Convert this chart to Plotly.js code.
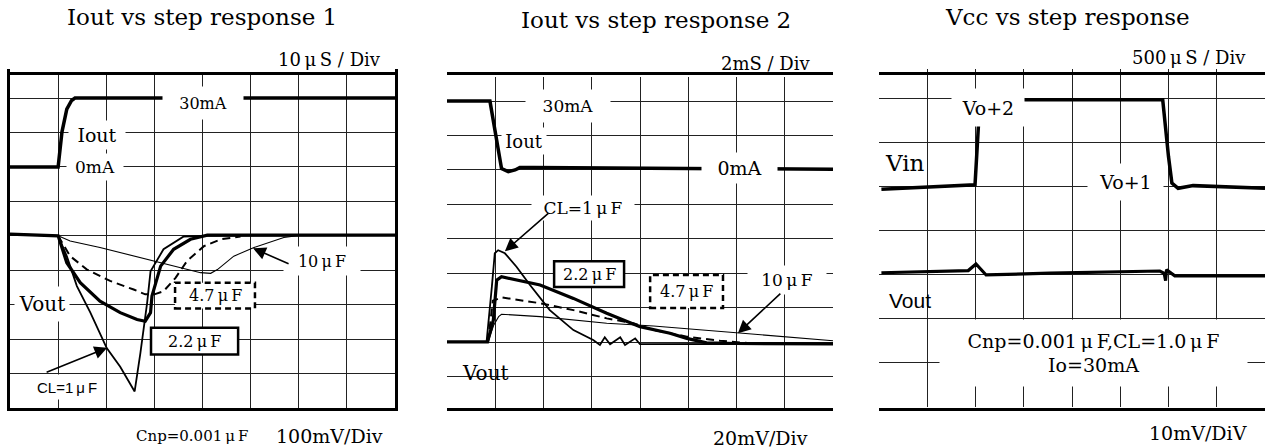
<!DOCTYPE html>
<html><head><meta charset="utf-8">
<script src="https://cdn.plot.ly/plotly-3.0.1.min.js"></script>
<style>html,body{margin:0;padding:0;background:#fff}</style>
</head><body><div id="chart" style="width:1270px;height:448px"></div>
<script>
// ---------- Panel 1: Iout vs step response 1 (x in divisions, y in divisions) ----------
const p1_iout_x = [0, 1.0, 1.08, 1.18, 1.28, 1.35, 8];
const p1_iout_y = [7.0, 7.0, 8.02, 8.68, 8.93, 9.0, 9.0];

const p1_cl1_x = [0, 1.0, 1.18, 1.39, 1.67, 2.01, 2.29, 2.59, 2.71, 2.85, 2.92, 3.19, 3.61, 4.0, 8];
const p1_cl1_y = [5.05, 5.0, 4.41, 3.54, 2.77, 1.74, 1.2, 0.48, 1.6, 3.06, 3.97, 4.61, 4.98, 5.0, 5.02];

const p1_c22_x = [0, 1.0, 1.18, 1.46, 1.87, 2.29, 2.64, 2.81, 2.92, 2.95, 3.13, 3.4, 3.75, 4.1, 8];
const p1_c22_y = [5.05, 5.0, 4.22, 3.64, 3.1, 2.77, 2.57, 2.52, 2.77, 3.25, 4.12, 4.61, 4.9, 5.02, 5.02];

const p1_c47_x = [1.0, 1.25, 1.6, 2.08, 2.57, 2.81, 3.0, 3.19, 3.44, 3.68, 4.03, 4.38, 4.79];
const p1_c47_y = [5.0, 4.41, 4.02, 3.69, 3.44, 3.3, 3.3, 3.39, 3.78, 4.27, 4.7, 4.9, 4.98];

const p1_c10_x = [1.0, 1.25, 1.87, 2.99, 3.96, 4.17, 4.31, 4.65, 5.07, 5.69, 6.04];
const p1_c10_y = [5.0, 4.85, 4.66, 4.27, 3.93, 3.91, 4.02, 4.41, 4.66, 4.95, 5.02];

// ---------- Panel 2: Iout vs step response 2 ----------
const p2_iout_x = [0, 0.89, 1.13, 1.27, 1.41, 1.51, 1.79, 5.45, 8];
const p2_iout_y = [9.0, 9.0, 7.04, 6.95, 7.0, 7.07, 7.07, 7.05, 7.02];

const p2_cl1_x = [0, 0.82, 0.93, 0.99, 1.06, 1.2, 1.44, 1.72, 2.13, 2.62, 3.03, 3.17, 3.27, 3.38, 3.59, 3.69, 3.9, 4.0, 4.14, 8];
const p2_cl1_y = [2.01, 2.01, 3.61, 4.58, 4.67, 4.58, 4.19, 3.66, 2.93, 2.35, 2.06, 1.92, 2.14, 1.94, 2.14, 1.92, 2.11, 1.94, 1.94, 1.95];

const p2_c22_x = [0, 0.84, 0.96, 1.03, 1.13, 1.44, 1.93, 2.62, 3.31, 4.0, 4.62, 4.97, 5.38, 6.0, 8];
const p2_c22_y = [2.01, 2.01, 2.64, 3.8, 3.9, 3.8, 3.66, 3.27, 2.84, 2.45, 2.26, 2.11, 1.98, 1.96, 1.95];

const p2_c47_x = [0.85, 0.95, 1.13, 1.93, 2.62, 3.31, 3.86, 4.28, 4.97, 5.66, 6.35];
const p2_c47_y = [2.0, 3.2, 3.3, 3.13, 2.93, 2.69, 2.55, 2.35, 2.16, 2.04, 1.96];

const p2_c10_x = [0.85, 0.97, 1.07, 1.13, 1.93, 3.31, 4.28, 6.04, 7.04, 8.0];
const p2_c10_y = [2.0, 2.5, 2.74, 2.81, 2.74, 2.55, 2.47, 2.26, 2.16, 2.04];

// ---------- Panel 3: Vcc vs step response ----------
const p3_vin_x = [0.05, 1.99, 2.06, 2.08, 3.05, 5.88, 6.0, 6.07, 6.2, 6.51, 8.0];
const p3_vin_y = [4.95, 5.05, 6.38, 7.0, 6.98, 6.98, 5.69, 5.09, 4.97, 5.03, 4.97];

const p3_vout_x = [0.05, 1.85, 2.01, 2.22, 3.54, 5.82, 5.91, 5.94, 5.96, 6.13, 8.0];
const p3_vout_y = [3.05, 3.1, 3.25, 3.0, 3.04, 3.09, 3.04, 2.87, 3.12, 2.98, 2.98];

// ---------- Layout helpers ----------
const W = 1270, H = 448;
const px = v => v / W, py = v => 1 - v / H;
const SERIF = 'DejaVu Serif, serif';
const SANS = 'Liberation Sans, Arial, sans-serif';
const DASH = '8px,5px';

function tr(x, y, xa, ya, width, dash) {
  return {x: x, y: y, xaxis: xa, yaxis: ya, type: 'scatter', mode: 'lines',
          line: {color: 'black', width: width, dash: dash || 'solid'},
          hoverinfo: 'skip', showlegend: false};
}

const data = [
  tr(p1_c10_x, p1_c10_y, 'x', 'y', 1.1),
  tr(p1_c47_x, p1_c47_y, 'x', 'y', 2, DASH),
  tr(p1_cl1_x, p1_cl1_y, 'x', 'y', 1.8),
  tr(p1_c22_x, p1_c22_y, 'x', 'y', 3.2),
  tr(p1_iout_x, p1_iout_y, 'x', 'y', 3.5),

  tr(p2_c10_x, p2_c10_y, 'x2', 'y2', 1.1),
  tr(p2_c47_x, p2_c47_y, 'x2', 'y2', 2, DASH),
  tr(p2_cl1_x, p2_cl1_y, 'x2', 'y2', 1.8),
  tr(p2_c22_x, p2_c22_y, 'x2', 'y2', 3.2),
  tr(p2_iout_x, p2_iout_y, 'x2', 'y2', 3.5),

  tr(p3_vin_x, p3_vin_y, 'x3', 'y3', 3.5),
  tr(p3_vout_x, p3_vout_y, 'x3', 'y3', 3.2)
];

function xax(l, r) {
  return {domain: [px(l), px(r)], range: [0, 8], tick0: 0, dtick: 1, showgrid: true,
          gridcolor: '#222', gridwidth: 1, showline: true, mirror: true, linewidth: 3,
          linecolor: 'black', showticklabels: false, ticks: '', zeroline: false, fixedrange: true};
}
function yax(t, b, top) {
  return {domain: [py(b), py(t)], range: [0, top], tick0: 0, dtick: 1, showgrid: true,
          gridcolor: '#222', gridwidth: 1, showline: true, mirror: true, linewidth: 3,
          linecolor: 'black', showticklabels: false, ticks: '', zeroline: false, fixedrange: true};
}

function lab(xr, yr, x, y, text, size, extra) {
  return Object.assign({xref: xr, yref: yr, x: x, y: y, text: text, showarrow: false,
    font: {family: SERIF, size: size, color: 'black'}, xanchor: 'center', yanchor: 'middle'}, extra || {});
}
function wlab(xr, yr, x, y, text, size, w, h, extra) {
  return lab(xr, yr, x, y, text, size, Object.assign({bgcolor: 'white', width: w, height: h}, extra || {}));
}
function arrow(xr, yr, hx, hy, tx, ty) {
  return {xref: xr, yref: yr, x: hx, y: hy, ax: tx, ay: ty, axref: xr, ayref: yr, text: '',
          showarrow: true, arrowhead: 2, arrowsize: 1.6, arrowwidth: 1.6, arrowcolor: 'black'};
}
function ptext(x, y, text, size, anchor) {
  return {xref: 'paper', yref: 'paper', x: px(x), y: py(y), text: text, showarrow: false,
          font: {family: SERIF, size: size, color: 'black'}, xanchor: anchor || 'center', yanchor: 'middle'};
}
function box(xr, yr, x0, x1, y0, y1, dash) {
  return {type: 'rect', xref: xr, yref: yr, x0: x0, x1: x1, y0: y0, y1: y1, layer: 'above',
          fillcolor: 'white', line: {color: 'black', width: 2.5, dash: dash || 'solid'}};
}

const mu = '\u2009\u03bc\u2009';

const annotations = [
  // Panel 1
  ptext(202, 17, 'Iout vs step response 1', 23),
  ptext(383, 60, '10' + mu + 'S / Div', 18, 'right'),
  ptext(192, 436, 'Cnp=0.001' + mu + 'F', 15),
  ptext(329, 436, '100mV/Div', 19),
  wlab('x', 'y', 4.0, 8.87, '30mA', 16, 78, 30),
  wlab('x', 'y', 1.81, 7.93, 'Iout', 19, 54, 26),
  wlab('x', 'y', 1.77, 7.0, '0mA', 17, 54, 24),
  wlab('x', 'y', 0.67, 3.03, 'Vout', 20, 52, 32),
  wlab('x', 'y', 6.49, 4.26, '10' + mu + 'F', 16, 74, 26),
  arrow('x', 'y', 5.05, 4.64, 5.82, 4.17),
  lab('x', 'y', 4.26, 3.27, '4.7' + mu + 'F', 16),
  lab('x', 'y', 3.83, 1.94, '2.2' + mu + 'F', 16),
  wlab('x', 'y', 1.19, 0.6, 'CL=1' + mu + 'F', 15, 72, 22, {font: {family: SANS, size: 15, color: 'black'}}),
  arrow('x', 'y', 2.02, 1.75, 0.73, 1.02),

  // Panel 2
  ptext(656, 20, 'Iout vs step response 2', 23),
  ptext(813, 63, '2mS / Div', 18, 'right'),
  ptext(760, 438, '20mV/Div', 19),
  wlab('x2', 'y2', 2.51, 8.85, '30mA', 17, 82, 30),
  wlab('x2', 'y2', 1.6, 7.84, 'Iout', 18, 42, 24),
  wlab('x2', 'y2', 6.07, 7.05, '0mA', 19, 73, 28),
  wlab('x2', 'y2', 2.82, 5.89, 'CL=1' + mu + 'F', 17, 100, 22),
  arrow('x2', 'y2', 1.2, 4.64, 2.13, 5.78),
  lab('x2', 'y2', 2.945, 3.975, '2.2' + mu + 'F', 16),
  lab('x2', 'y2', 4.965, 3.47, '4.7' + mu + 'F', 16),
  wlab('x2', 'y2', 7.05, 3.8, '10' + mu + 'F', 17, 76, 26),
  arrow('x2', 'y2', 6.03, 2.26, 6.94, 3.45),
  lab('x2', 'y2', 0.79, 1.1, 'Vout', 20),

  // Panel 3
  ptext(1067, 17, 'Vcc vs step response', 23),
  ptext(1248, 58, '500' + mu + 'S / Div', 18, 'right'),
  ptext(1198, 433, '10mV/DiV', 19),
  wlab('x3', 'y3', 2.26, 6.81, 'Vo+2', 19, 70, 35),
  wlab('x3', 'y3', 5.1, 5.12, 'Vo+1', 19, 73, 34),
  lab('x3', 'y3', 0.54, 5.55, 'Vin', 23),
  lab('x3', 'y3', 0.64, 2.43, 'Vout', 21, {font: {family: SANS, size: 21, color: 'black'}}),
  wlab('x3', 'y3', 4.45, 1.23, 'Cnp=0.001' + mu + 'F,CL=1.0' + mu + 'F<br>Io=30mA', 19, 305, 64)
];

const shapes = [
  box('x', 'y', 3.43, 5.09, 2.89, 3.64, '6px,4px'),
  box('x', 'y', 2.93, 4.74, 1.55, 2.33),
  box('x2', 'y2', 2.22, 3.67, 3.6, 4.35),
  box('x2', 'y2', 4.21, 5.72, 2.99, 3.95, '6px,4px')
];

const layout = {
  width: W, height: H, margin: {l: 0, r: 0, t: 0, b: 0},
  paper_bgcolor: 'white', plot_bgcolor: 'white', showlegend: false,
  xaxis: xax(10, 395), yaxis: yax(75, 408, 9.67),
  xaxis2: xax(447, 833), yaxis2: yax(77, 411, 9.7),
  xaxis3: xax(879, 1265), yaxis3: yax(69, 407, 7.68),
  annotations: annotations, shapes: shapes
};

Plotly.newPlot('chart', data, layout, {staticPlot: true, displayModeBar: false});
</script></body></html>
